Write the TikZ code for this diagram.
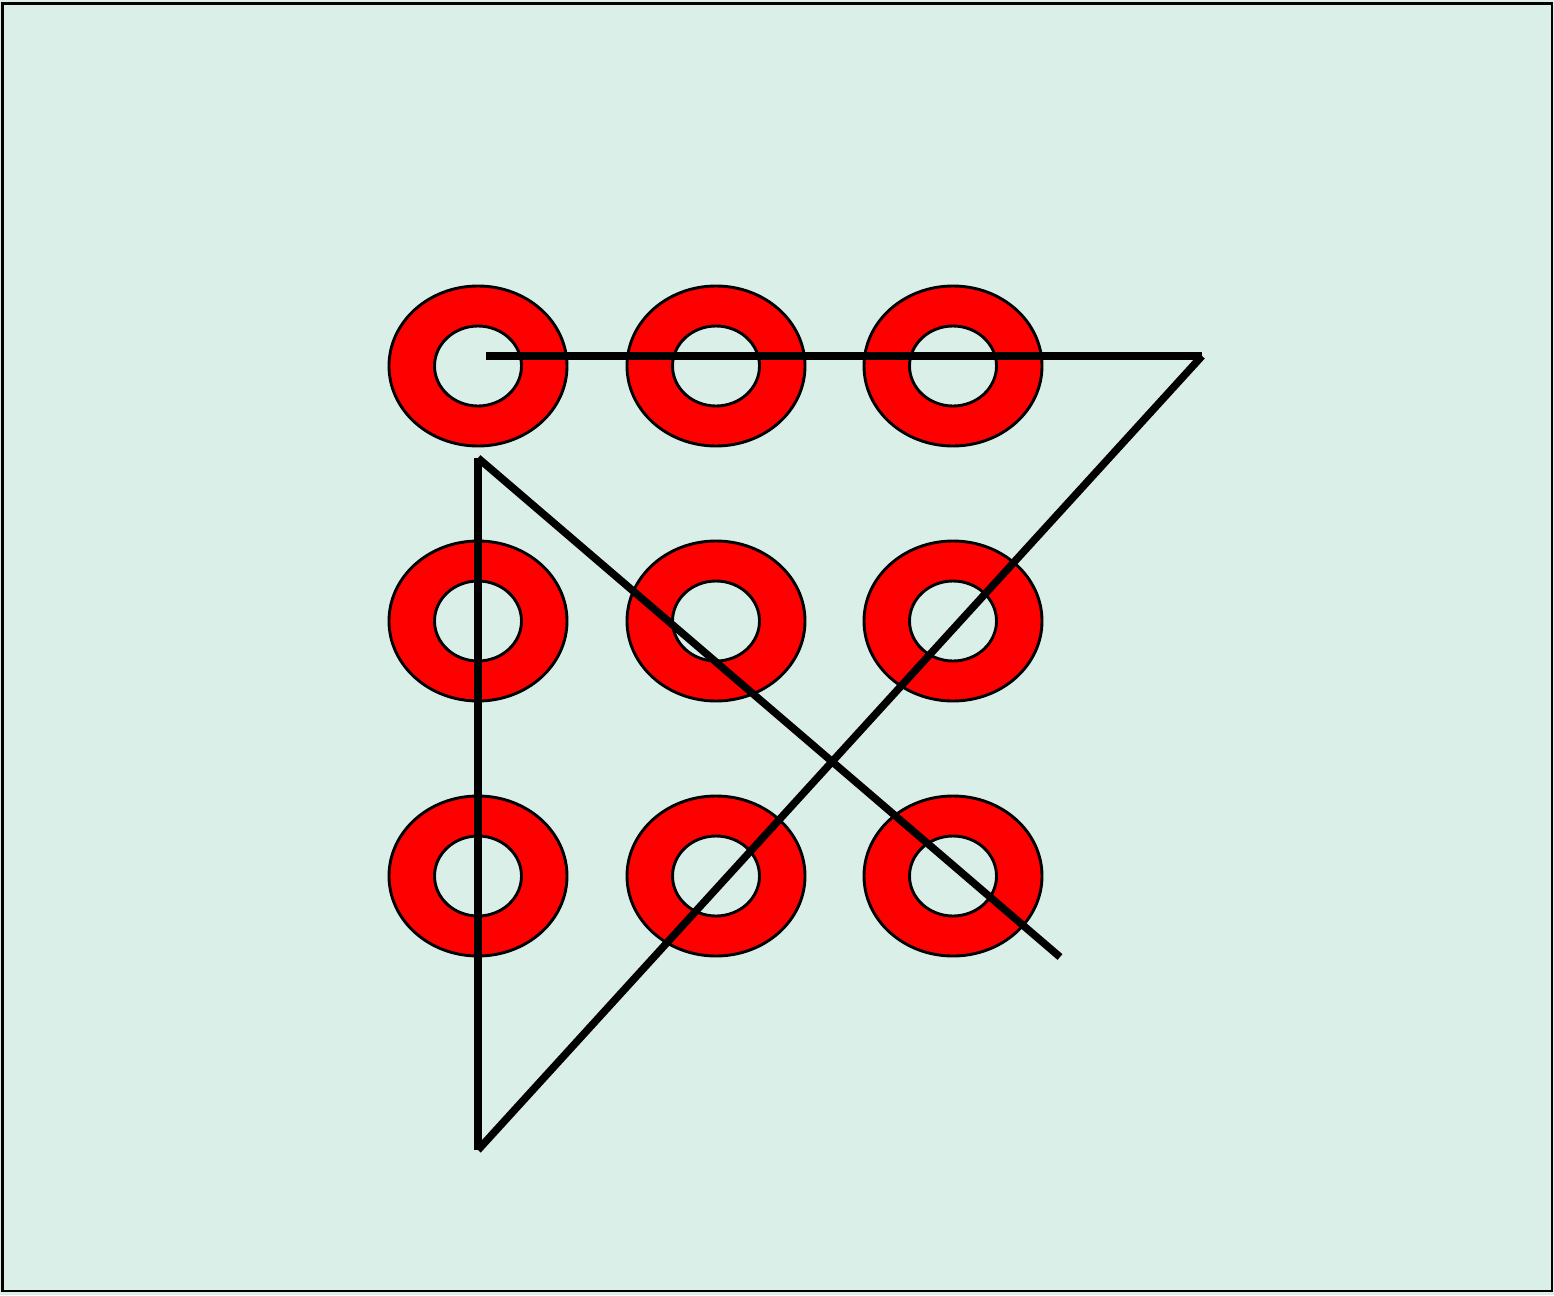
\documentclass[tikz,border=0pt]{standalone}
\definecolor{bgc}{HTML}{DAEFE8}
\tikzset{
  ring/.style={fill=red, draw=black, line width=2.9pt, even odd rule},
  stroke/.style={draw=black, line width=7.5pt, line cap=butt}
}
\begin{document}
\begin{tikzpicture}[x=1pt,y=-1pt]
\useasboundingbox (0,0) rectangle (1554,1295);
\fill[bgc] (0,0) rectangle (1554,1295);
\draw[black, line width=2.8pt] (2.5,3.5) rectangle (1552,1291);
\foreach \cx in {478,716,953}{
  \foreach \cy in {366,621,876}{
    \path[ring] (\cx,\cy) ellipse [x radius=89, y radius=80]
                (\cx,\cy) ellipse [x radius=43.5, y radius=40];
  }
}
\coordinate (p1) at (486,356);
\coordinate (p2) at (1202,356);
\coordinate (p3) at (478,1150);
\coordinate (p4) at (478,458);
\coordinate (p5) at (1060,957);
\draw[stroke] (p1) -- (p2);
\draw[stroke] (p2) -- (p3);
\draw[stroke] (p3) -- (p4);
\draw[stroke] (p4) -- (p5);
\end{tikzpicture}
\end{document}
